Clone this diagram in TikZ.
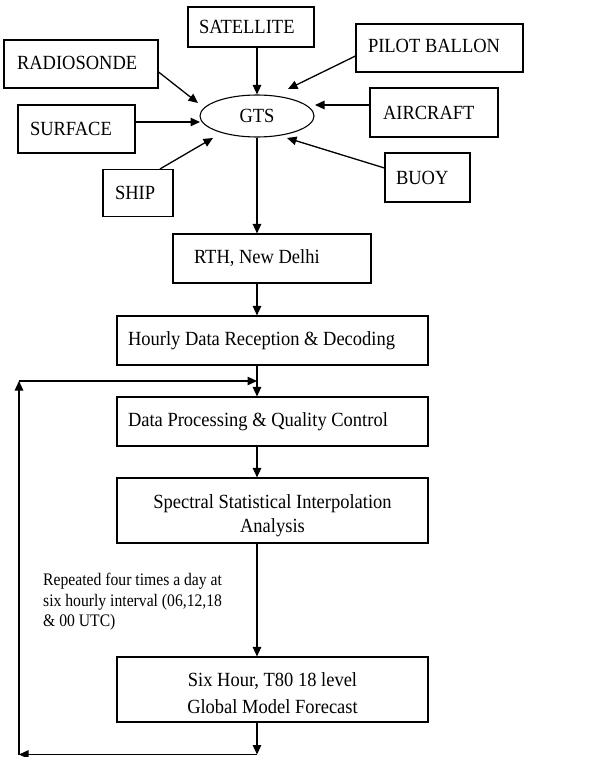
\documentclass[tikz,border=0pt]{standalone}
\usepackage{fontspec}
\setmainfont[FakeStretch=0.92]{Liberation Serif}
\newfontfamily\notefont[FakeStretch=0.89]{Liberation Serif}
\usetikzlibrary{arrows.meta,calc,shapes.geometric}
\begin{document}
\begin{tikzpicture}[x=1pt,y=-1pt,
  every node/.style={font=\fontsize{20.1}{24.4}\selectfont},
  % rectangular box: text width, height, side padding
  boxed/.style n args={3}{draw,line width=1.1pt,rectangle,inner ysep=0pt,
    minimum height=#2,text width=#1,inner xsep=#3,align=flush left},
  arr/.style={line width=1.3pt,-{Triangle[length=9.5pt,width=8.5pt]}}
  ]
\useasboundingbox (0,0) rectangle (603,757);

% observing systems around the GTS hub
\node[draw,ellipse,line width=1.1pt,minimum width=114pt,minimum height=42pt,inner sep=0pt] (gts) at (257,116) {GTS};
\node[boxed={104pt}{40pt}{11pt}] (sat) at (251,27) {SATELLITE};
\node[boxed={143pt}{48pt}{12pt},text depth=4pt] (pil) at (439.5,48) {PILOT BALLON};
\node[boxed={128pt}{48pt}{13pt},text depth=3pt] (rad) at (81,64) {RADIOSONDE};
\node[boxed={93pt}{48pt}{12pt}] (sur) at (76.5,129) {SURFACE};
\node[boxed={46pt}{47pt}{12pt}] (ship) at (138,193) {SHIP};
\node[boxed={102pt}{49pt}{13pt}] (air) at (434,112.5) {AIRCRAFT};
\node[boxed={63pt}{49pt}{11pt}] (buoy) at (427.5,177.5) {BUOY};

% processing chain
\node[boxed={156pt}{49pt}{21pt}] (rth) at (272,258.5) {RTH, New Delhi};
\node[boxed={289pt}{49pt}{11pt}] (hour) at (272.5,340.5) {Hourly Data Reception \& Decoding};
\node[boxed={289pt}{49pt}{11pt}] (dpq) at (272.5,421.5) {Data Processing \& Quality Control};
\node[boxed={289pt}{65pt}{11pt},align=flush center] (spec) at (272.5,510.5)
  {\rule{0pt}{24.5pt}Spectral Statistical Interpolation\\Analysis};
\node[boxed={289pt}{65pt}{11pt},align=flush center,font=\fontsize{20.1}{26.7}\selectfont] (six) at (272.5,689.5)
  {\rule{0pt}{21.3pt}Six Hour, T80 18 level\\Global Model Forecast};

\node[anchor=north west,inner sep=0pt,align=flush left,font=\notefont\fontsize{17.6}{20.5}\selectfont] (note) at (43,573)
  {Repeated four times a day at\\six hourly interval (06,12,18\\\& 00 UTC)};

% inputs to GTS
\draw[arr] (gts.north |- sat.south) -- (gts.north);
\draw[arr] ($(rad.east)+(0,8)$) -- ($(gts.center)+(-59,-13)$);
\draw[arr] ($(pil.west)+(0,8)$) -- ($(gts.center)+(31,-27)$);
\draw[arr] ($(sur.east)+(0,-7)$) -- ($(gts.center)+(-57,6)$);
\draw[arr] ($(ship.north)+(22,0)$) -- ($(gts.center)+(-44,22)$);
\draw[arr] ($(air.west)+(0,-7.5)$) -- ($(gts.center)+(58,-11)$);
\draw[arr] ($(buoy.west)+(0,-9.5)$) -- ($(gts.center)+(30,22)$);

% main chain
\draw[arr] (gts.south) -- (gts.south |- rth.north);
\draw[arr] (rth.south -| gts.south) -- (hour.north -| gts.south);
\draw[arr] (hour.south -| gts.south) -- (dpq.north -| gts.south);
\draw[arr] (dpq.south -| gts.south) -- (spec.north -| gts.south);
\draw[arr] (spec.south -| gts.south) -- (six.north -| gts.south);

% repeat loop
\coordinate (lb) at (19,754.5);
\coordinate (lt) at (19,381);
\coordinate (mb) at (gts.south |- lb);
\coordinate (mt) at (gts.south |- lt);
\draw[arr] (six.south -| gts.south) -- (mb);
\draw[arr] (mb) -- (lb);
\draw[arr] (lb) -- (lt);
\draw[arr] (lt) -- (mt);
\end{tikzpicture}
\end{document}
